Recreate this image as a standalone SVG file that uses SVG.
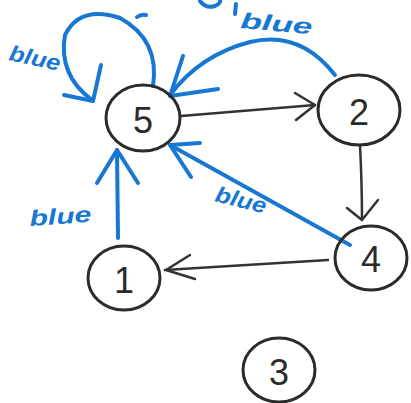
<svg xmlns="http://www.w3.org/2000/svg" width="411" height="403" viewBox="0 0 411 403">
<style>
.node ellipse{fill:none;stroke:#2b2b2b;stroke-width:3}
.node text{font-family:"Liberation Sans",Arial,sans-serif;font-size:36px;fill:#2b2b2b;text-anchor:middle;dominant-baseline:central}
.k{fill:none;stroke:#333;stroke-width:2.5;stroke-linecap:round;stroke-linejoin:round}
.b{fill:none;stroke:#1877d2;stroke-width:4;stroke-linecap:round;stroke-linejoin:round}
.lbl{font-family:"Liberation Sans",Arial,sans-serif;font-style:italic;font-weight:bold;font-size:22px;fill:#1877d2}
</style>
<rect width="411" height="403" fill="#ffffff"/>
<g id="fragments">
<path class="b" d="M137 17 Q141 14 146 15" stroke-width="3"/>
<path class="b" d="M200 1 Q206 9 215 6 Q221 3 220 0" stroke-width="3"/>
<path class="b" d="M236 4 L235 14" stroke-width="3"/>
</g>
<g id="connectors">
<path class="k" d="M181 116 L315 105"/>
<path class="k" d="M295 93 L315 105 L296 120"/>
<path class="k" d="M360 145 Q362 185 362 220"/>
<path class="k" d="M347 208 L362 220 L378 200"/>
<path class="k" d="M328 260 L165 270"/>
<path class="k" d="M190 255 L166 270 L195 279"/>
<path class="b" d="M118 238 L117 150"/>
<path class="b" d="M97 183 L117 150 L138 183"/>
<path class="b" d="M350 245 L170 145"/>
<path class="b" d="M200 143 L170 145 L191 177"/>
<path class="b" d="M335 75 Q300 30 250 42 Q200 55 170 95"/>
<path class="b" d="M183 56 L170 96 L218 89"/>
<path class="b" d="M153 86 Q160 40 120 18 Q80 5 65 35 Q58 75 92 100"/>
<path class="b" d="M101 65 L93 101 L64 95"/>
<text class="lbl" x="8" y="60" transform="rotate(12 8 60)" textLength="52" lengthAdjust="spacingAndGlyphs">blue</text>
<text class="lbl" x="240" y="28" transform="rotate(5 240 28)" textLength="72" lengthAdjust="spacingAndGlyphs">blue</text>
<text class="lbl" x="214" y="201" transform="rotate(14 214 201)" textLength="52" lengthAdjust="spacingAndGlyphs">blue</text>
<text class="lbl" x="30" y="226" transform="rotate(-4 30 226)" textLength="62" lengthAdjust="spacingAndGlyphs">blue</text>
</g>
<g id="node5" class="node"><ellipse cx="143" cy="118" rx="37" ry="33"/><text x="143" y="120">5</text></g>
<g id="node2" class="node"><ellipse cx="359" cy="110" rx="41" ry="35"/><text x="359" y="112">2</text></g>
<g id="node4" class="node"><ellipse cx="371" cy="258" rx="36" ry="32"/><text x="371" y="259">4</text></g>
<g id="node1" class="node"><ellipse cx="124" cy="278" rx="36" ry="32"/><text x="124" y="280">1</text></g>
<g id="node3" class="node"><ellipse cx="279" cy="370" rx="36" ry="32"/><text x="279" y="372">3</text></g>
</svg>
